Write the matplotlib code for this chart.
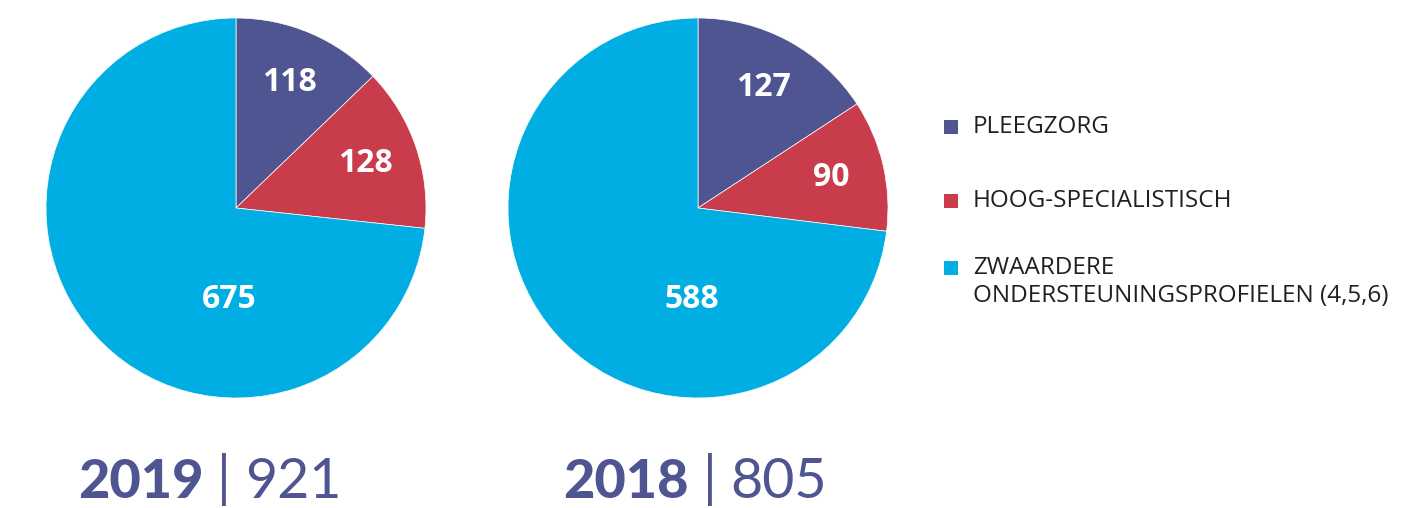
import matplotlib.pyplot as plt
from matplotlib.patches import Rectangle

categories = ["PLEEGZORG", "HOOG-SPECIALISTISCH", "ZWAARDERE\nONDERSTEUNINGSPROFIELEN (4,5,6)"]
years = ["2019", "2018"]
values_2019 = [118, 128, 675]
values_2018 = [127, 90, 588]
colors = ["#4f5590", "#c83c4b", "#00aee3"]
title_color = "#4f5590"

fig = plt.figure(figsize=(14.22, 5.08), dpi=100)

# pie axes: centre and radius in pixels
pie_boxes = [(236, 208, 190), (698, 208, 190)]
# the big slice label sits nearly straight below the centre
big_label_pos = [(-0.037, -0.48), (-0.03, -0.48)]

for (cx, cy, r), vals, big_pos in zip(pie_boxes, [values_2019, values_2018], big_label_pos):
    ax = fig.add_axes([(cx - r) / 1422, (508 - cy - r) / 508, 2 * r / 1422, 2 * r / 508])
    wedges, texts = ax.pie(
        vals,
        colors=colors,
        startangle=90,
        counterclock=False,
        labels=[str(v) for v in vals],
        labeldistance=0.72,
        wedgeprops=dict(linewidth=0.5, edgecolor="white"),
        textprops=dict(color="white", fontsize=23, fontweight="bold",
                       family="Open Sans", ha="center", va="center"),
    )
    texts[2].set_position(big_pos)
    ax.set_xlim(-1, 1)
    ax.set_ylim(-1, 1)
    ax.set_aspect("equal")
    ax.axis("off")

# bottom titles: bold year | thin total
fig.canvas.draw()
renderer = fig.canvas.get_renderer()
title_x = [78, 563]
for x0, year, vals in zip(title_x, years, [values_2019, values_2018]):
    t1 = fig.text(x0 / 1422, 10 / 508, year, fontsize=39, fontweight="black",
                  family="Lato", color=title_color, ha="left", va="baseline")
    bb = t1.get_window_extent(renderer)
    t2 = fig.text((bb.x1 + 14) / 1422, 2 / 508, "|", fontsize=40, fontweight="normal",
                  family="Lato", color=title_color, ha="left", va="bottom")
    bb2 = t2.get_window_extent(renderer)
    fig.text((bb2.x1 + 14) / 1422, 10 / 508, str(sum(vals)), fontsize=40,
             fontweight="normal", family="Lato", color=title_color,
             ha="left", va="baseline")

# legend drawn by hand so the square lines up with the first text line
legend_rows = [127, 201, 268]
for cat, col, y in zip(categories, colors, legend_rows):
    fig.patches.append(Rectangle((944 / 1422, (508 - y - 7) / 508), 14 / 1422, 14 / 508,
                                 transform=fig.transFigure, facecolor=col, edgecolor="none"))
    fig.text(973 / 1422, (508 - y) / 508 + (12 / 508 if "\n" in cat else 0), cat,
             fontsize=17.5, family="Open Sans", color="#231f20", ha="left",
             va="top" if "\n" in cat else "center", linespacing=1.25)

fig.savefig("out.png", dpi=100)
